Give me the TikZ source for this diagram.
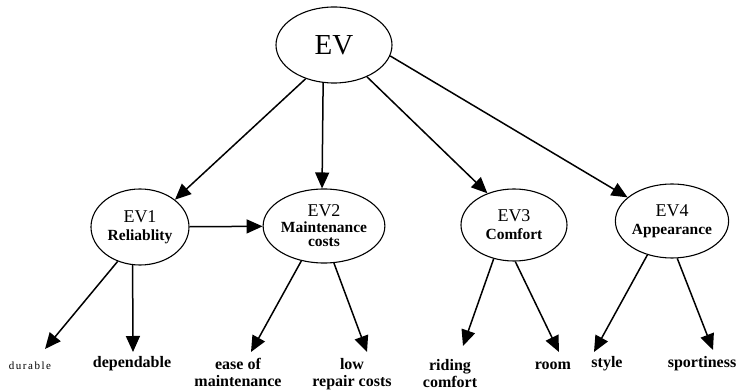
\documentclass[tikz,border=0pt]{standalone}
\usepackage{fontspec}
\setmainfont{Liberation Serif}
\newfontfamily\spacedfont[LetterSpace=14]{Liberation Serif}
\usetikzlibrary{arrows.meta}
\usetikzlibrary{shapes.geometric}

\newcommand{\evbig}{\fontsize{18}{18}\selectfont\mdseries}
\newcommand{\evsmall}{\fontsize{15.5}{16}\selectfont\bfseries}

\begin{document}
\begin{tikzpicture}[x=1pt,y=-1pt]
    \tikzset{line/.style={line width=1.5pt, -{Triangle[length=16pt,width=14pt]}}};
    \tikzset{oval/.style={draw, ellipse, line width=1.1pt, inner sep=0pt, align=center, font=\fontsize{16}{17}\selectfont}};
    \tikzset{attr/.style={font=\fontsize{16}{17}\selectfont\bfseries, align=center, inner sep=0pt}};
    \useasboundingbox (0,0) rectangle (740,390);

    % top node
    \node[oval, minimum width=116pt, minimum height=76pt, font=\fontsize{29}{30}\selectfont] (ev) at (334,45) {EV};

    % the four aspects
    \node[oval, minimum width=98pt, minimum height=76pt] (ev1) at (140,227) {\evbig EV1\\[1pt]\evsmall Reliablity};
    \node[oval, minimum width=96pt, minimum height=74pt] (ev2) at (324,226) {\evbig EV2\\[-1pt]\evsmall Maintenance\\[-3pt]\evsmall costs};
    \node[oval, minimum width=106pt, minimum height=72pt] (ev3) at (514,225) {\evbig EV3\\[1pt]\evsmall Comfort};
    \node[oval, minimum width=98pt, minimum height=74pt] (ev4) at (672,221) {\evbig EV4\\[1pt]\evsmall Appearance};

    \draw[line] (ev.230) -- (ev1.38);
    \draw[line] (ev.254) -- (ev2.93);
    \draw[line] (ev.316) -- (ev3.130);
    \draw[line] (ev.349) -- (ev4.152);
    \draw[line] (ev1) -- (ev2);

    % attributes
    \node[inner sep=0pt, font=\fontsize{11}{12}\spacedfont, anchor=base] (dur) at (30,370) {durable};
    \node[attr, anchor=base] (dep) at (132,368) {dependable};
    \node[attr, anchor=north] (eas) at (238,358) {ease of\\maintenance};
    \node[attr, anchor=north] (low) at (352,358) {low\\repair costs};
    \node[attr, anchor=north] (rid) at (450,359) {riding\\comfort};
    \node[attr, anchor=base] (room) at (553,370) {room};
    \node[attr, anchor=base] (sty) at (607,368) {style};
    \node[attr, anchor=base] (spo) at (702,368) {sportiness};

    % arrow tips above the attributes
    \coordinate (durtip) at (45,349);
    \coordinate (deptip) at (133,352);
    \coordinate (eastip) at (251,352);
    \coordinate (lowtip) at (367,352);
    \coordinate (ridtip) at (463,346);
    \coordinate (roomtip) at (559,352);
    \coordinate (stytip) at (594,352);
    \coordinate (spotip) at (713,350);

    \draw[line] (ev1.237) -- (durtip);
    \draw[line] (ev1.259) -- (deptip);
    \draw[line] (ev2.237) -- (eastip);
    \draw[line] (ev2.285) -- (lowtip);
    \draw[line] (ev3.239) -- (ridtip);
    \draw[line] (ev3.272) -- (roomtip);
    \draw[line] (ev4.234) -- (stytip);
    \draw[line] (ev4.278) -- (spotip);
\end{tikzpicture}
\end{document}
